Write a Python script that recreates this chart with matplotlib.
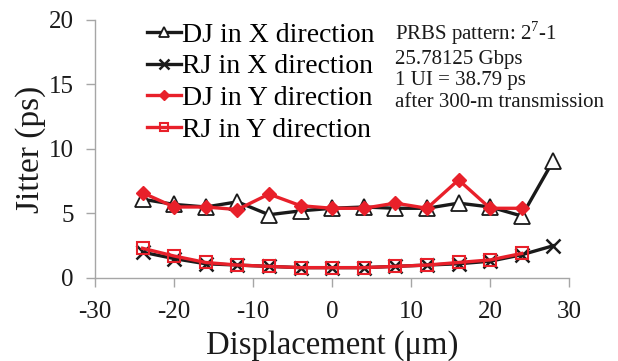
import matplotlib
matplotlib.use("Agg")
import matplotlib.pyplot as plt

plt.rcParams["font.family"] = ["Liberation Serif", "DejaVu Serif"]
plt.rcParams["mathtext.fontset"] = "custom"
plt.rcParams["mathtext.rm"] = "Liberation Serif"
plt.rcParams["axes.unicode_minus"] = False

# displacement positions (um) and measured jitter (ps)
disp_x = [-24, -20, -16, -12, -8, -4, 0, 4, 8, 12, 16, 20, 24, 28]
dj_x = [6.1, 5.7, 5.5, 5.9, 4.9, 5.2, 5.4, 5.5, 5.4, 5.4, 5.8, 5.5, 4.8, 9.1]
rj_x = [2.0, 1.5, 1.1, 1.0, 0.9, 0.8, 0.8, 0.8, 0.9, 1.0, 1.1, 1.3, 1.8, 2.5]

disp_y = [-24, -20, -16, -12, -8, -4, 0, 4, 8, 12, 16, 20, 24]
dj_y = [6.6, 5.5, 5.5, 5.3, 6.5, 5.6, 5.4, 5.4, 5.8, 5.4, 7.6, 5.4, 5.4]
rj_y = [2.3, 1.7, 1.2, 1.0, 0.9, 0.8, 0.8, 0.8, 0.9, 1.0, 1.2, 1.4, 1.9]

RED = "#e8202a"
GRAY = "#a6a6a6"
INK = "#1a1a1a"

fig = plt.figure(figsize=(6.18, 3.61), dpi=100)
ax = fig.add_axes([0.154, 0.23, 0.767, 0.715])

ax.plot(disp_x, dj_x, color=INK, lw=2.4, marker="^", ms=11,
        mfc="white", mec=INK, mew=1.3, label="DJ in X direction", zorder=3)
ax.plot(disp_x, rj_x, color=INK, lw=2.4, marker="x", ms=10,
        mew=1.8, label="RJ in X direction", zorder=3)
ax.plot(disp_y, dj_y, color=RED, lw=2.4, marker="D", ms=7,
        mfc=RED, mec=RED, label="DJ in Y direction", zorder=4)
ax.plot(disp_y, rj_y, color=RED, lw=2.4, marker="s", ms=9,
        mfc="none", mec=RED, mew=1.5, label="RJ in Y direction", zorder=4)

ax.set_xlim(-30, 30)
ax.set_ylim(0, 20)
ax.set_xticks(range(-30, 31, 10))
ax.set_yticks(range(0, 21, 5))
ax.tick_params(labelsize=18, color=GRAY, length=6.5, width=1,
               labelcolor=INK)
ax.tick_params(axis="x", pad=10)
ax.tick_params(axis="y", pad=9)
for side in ("top", "right"):
    ax.spines[side].set_visible(False)
for side in ("left", "bottom"):
    ax.spines[side].set_color(GRAY)
    ax.spines[side].set_linewidth(1)

ax.set_xlabel("Displacement (μm)", fontsize=23.5, labelpad=5, color=INK)
ax.set_ylabel("Jitter (ps)", fontsize=24, labelpad=2, color=INK)

ax.legend(loc="upper left", bbox_to_anchor=(0.11, 0.99), frameon=False,
          fontsize=20, handlelength=1.2, handletextpad=0.05,
          labelspacing=0.22, markerscale=0.7, borderpad=0,
          borderaxespad=0)

ax.text(0.633, 1.0,
        "PRBS pattern: 2$^{7}$-1\n25.78125 Gbps\n1 UI = 38.79 ps\nafter 300-m transmission",
        transform=ax.transAxes, fontsize=15, va="top", ha="left",
        linespacing=1.17, color=INK)

fig.savefig("out.png", dpi=100)
